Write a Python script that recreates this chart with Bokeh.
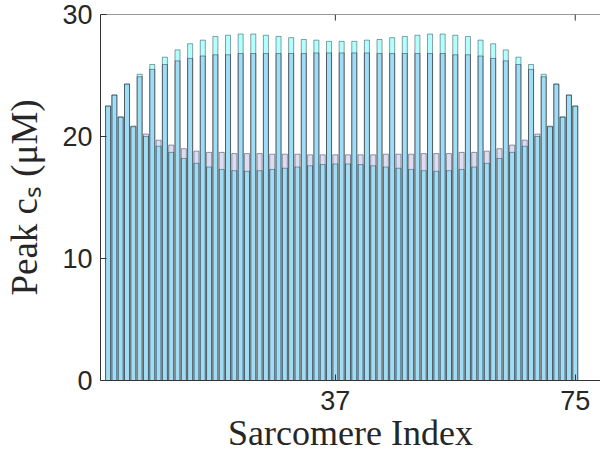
from bokeh.plotting import figure
from bokeh.models import Range1d, LinearAxis, FixedTicker, Span
from bokeh.embed import file_html
from bokeh.resources import INLINE

# Sarcomere indices
sarcomere_index = list(range(1, 76))

# Series 1 (cyan) peak c_s values, uM
peak_cs_series1 = [22.5, 23.4, 21.6, 24.3, 20.8, 25.1, 20.0, 25.9, 19.2, 26.5,
                   18.7, 27.1, 18.2, 27.6, 17.8, 27.9, 17.5, 28.2, 17.3, 28.3,
                   17.2, 28.4, 17.15, 28.4, 17.2, 28.3, 17.3, 28.2, 17.4, 28.1,
                   17.5, 27.95, 17.6, 27.9, 17.7, 27.8, 17.75, 27.8, 17.75, 27.8,
                   17.7, 27.9, 17.6, 27.95, 17.5, 28.1, 17.4, 28.2, 17.3, 28.3,
                   17.2, 28.4, 17.15, 28.4, 17.2, 28.3, 17.3, 28.2, 17.5, 27.9,
                   17.8, 27.6, 18.2, 27.1, 18.7, 26.5, 19.2, 25.9, 20.0, 25.1,
                   20.8, 24.3, 21.6, 23.4, 22.5]

# Series 2 (lavender) peak c_s values, uM
peak_cs_series2 = [22.5, 23.4, 21.6, 24.3, 20.85, 24.9, 20.2, 25.5, 19.7, 25.9,
                   19.3, 26.2, 19.0, 26.4, 18.8, 26.6, 18.7, 26.7, 18.7, 26.7,
                   18.6, 26.8, 18.6, 26.8, 18.6, 26.8, 18.55, 26.8, 18.55, 26.8,
                   18.55, 26.8, 18.5, 26.85, 18.5, 26.85, 18.5, 26.85, 18.5, 26.85,
                   18.5, 26.85, 18.5, 26.8, 18.55, 26.8, 18.55, 26.8, 18.55, 26.8,
                   18.6, 26.8, 18.6, 26.8, 18.6, 26.7, 18.7, 26.7, 18.7, 26.6,
                   18.8, 26.4, 19.0, 26.2, 19.3, 25.9, 19.7, 25.5, 20.2, 24.9,
                   20.85, 24.3, 21.6, 23.4, 22.5]

x_ticks = [37, 75]
y_ticks = [0, 10, 20, 30]

assert len(peak_cs_series1) == 75 and len(peak_cs_series2) == 75

AX = "#333333"
TICK_FONT = "Liberation Sans"
LABEL_FONT = "Liberation Serif"

p = figure(width=600, height=464, output_backend="svg", toolbar_location=None,
           x_range=Range1d(-0.2, 79), y_range=Range1d(0, 30),
           x_axis_location=None, y_axis_location=None)
p.min_border_left = 100
p.min_border_right = 0
p.min_border_top = 14
p.min_border_bottom = 84
p.outline_line_color = None
p.xgrid.visible = False
p.ygrid.visible = False
p.background_fill_color = "white"
p.border_fill_color = "white"

p.vbar(x=sarcomere_index, top=peak_cs_series1, bottom=0, width=0.8,
       fill_color="#00ffff", fill_alpha=0.3,
       line_color="black", line_alpha=0.38, line_width=1)
p.vbar(x=sarcomere_index, top=peak_cs_series2, bottom=0, width=0.8,
       fill_color="#5858cf", fill_alpha=0.21,
       line_color="black", line_alpha=0.38, line_width=1)

def style(ax):
    ax.axis_line_color = AX
    ax.axis_line_width = 1
    ax.major_tick_line_color = AX
    ax.major_tick_in = 6
    ax.major_tick_out = 0
    ax.minor_tick_line_color = None
    ax.major_label_text_font = TICK_FONT
    ax.major_label_text_font_size = "27px"
    ax.major_label_text_color = "#262626"
    ax.axis_label_text_font = LABEL_FONT
    ax.axis_label_text_font_size = "36px"
    ax.axis_label_text_font_style = "normal"
    ax.axis_label_text_color = "#262626"

xaxis = LinearAxis(ticker=FixedTicker(ticks=x_ticks), axis_label="Sarcomere Index")
style(xaxis)
xaxis.major_label_standoff = 10
xaxis.axis_label_standoff = 0
p.add_layout(xaxis, "below")

yaxis = LinearAxis(ticker=FixedTicker(ticks=y_ticks), axis_label="Peak cₛ (μM)")
style(yaxis)
yaxis.axis_label_text_font_size = "37px"
yaxis.major_label_standoff = 8
yaxis.axis_label_standoff = 14
p.add_layout(yaxis, "left")

# top box edge with mirrored inward ticks (MATLAB box on)
p.add_layout(Span(location=y_ticks[-1], dimension="width", line_color=AX, line_width=1))
p.segment(x0=x_ticks, x1=x_ticks,
          y0=[y_ticks[-1]] * len(x_ticks), y1=[y_ticks[-1] - 0.5] * len(x_ticks),
          line_color=AX, line_width=1)

open("out.html", "w").write(file_html(p, INLINE))
